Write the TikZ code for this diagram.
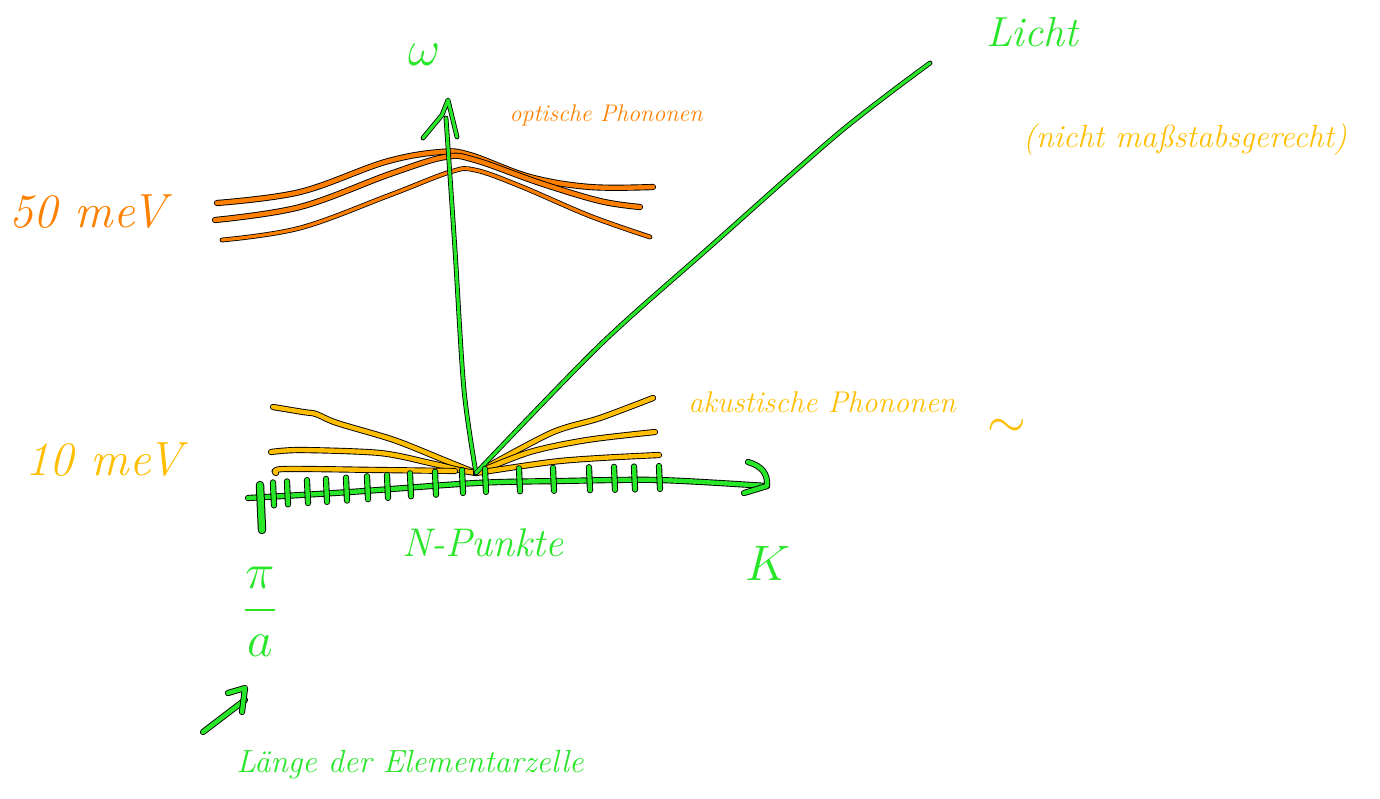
\documentclass[tikz,border=0pt]{standalone}
\usepackage{amsmath}
\definecolor{hgreen}{RGB}{40,230,40}
\definecolor{horange}{RGB}{255,128,0}
\definecolor{hyellow}{RGB}{255,190,0}
\tikzset{
  ink/.style={draw=black, double=#1, double distance=2.2pt, line width=0.45pt, line cap=round, line join=round},
  thinink/.style={draw=black, double=#1, double distance=1.6pt, line width=0.4pt, line cap=round, line join=round},
  lbl/.style={text=#1, inner sep=0pt, font=\itshape},
}
\begin{document}
\begin{tikzpicture}[x=0.5pt,y=-0.5pt]
\useasboundingbox (0,0) rectangle (1380,798);
% key points
\coordinate (O) at (476,473);
\coordinate (Kstart) at (248,498);
\coordinate (Kend) at (767,486);
\coordinate (Wtop) at (446,118);
\coordinate (Ltop) at (930,63);

% optical phonons
\draw[ink=horange] plot[smooth, tension=0.6] coordinates {(217,203) (300,192) (385,162) (440,152) (470,155) (530,177) (590,187) (653,187)};
\draw[ink=horange] plot[smooth, tension=0.6] coordinates {(215,220) (300,207) (390,174) (445,157) (475,160) (540,183) (600,201) (640,207)};
\draw[thinink=horange] plot[smooth, tension=0.6] coordinates {(222,240) (300,228) (390,195) (450,172) (475,170) (520,186) (590,216) (650,237)};

% acoustic phonons
\draw[ink=hyellow] plot[smooth] coordinates {(273,407) (303,412) (316,414) (337,423) (394,440) (444,460) (O)};
\draw[ink=hyellow] plot[smooth] coordinates {(271,452) (301,450) (380,453) (430,463) (459,470) (O)};
\draw[ink=hyellow] plot[smooth] coordinates {(276,473) (284,469) (380,470) (455,471)};
\draw[ink=hyellow] plot[smooth] coordinates {(O) (551,433) (600,418) (653,398)};
\draw[ink=hyellow] plot[smooth] coordinates {(O) (530,452) (587,440) (655,432)};
\draw[ink=hyellow] plot[smooth] coordinates {(O) (551,462) (600,458) (659,455)};

% omega axis
\draw[thinink=hgreen] plot[smooth] coordinates {(O) (464,390) (455,250) (Wtop)};
\draw[thinink=hgreen] (423,138) -- (442,115) -- (448,100) -- (457,137);

% light line
\draw[thinink=hgreen] plot[smooth] coordinates {(O) (600,345) (712,245) (840,132) (Ltop)};

% K axis
\draw[ink=hgreen] plot[smooth] coordinates {(Kstart) (350,492) (476,483) (560,481) (659,480) (Kend)};
\draw[ink=hgreen] (748,462) .. controls (762,466) and (768,474) .. (767,486) -- (744,493);
\draw[draw=black, double=hgreen, double distance=3.2pt, line width=0.5pt, line cap=round] (260,485) -- (262,530);
\foreach \x/\y in {273/496.4,287/495.4,307/494.1,326/492.9,346/491.6,367/490.2,387/488.9,410/487.3,435/485.7,462/484.0,485/482.9,519/482.3,553/481.8,589/481.2,614/480.8,634/480.5,659/480}{
  \draw[ink=hgreen] (\x,\y-14) -- (\x+1,\y+9);
}

% arrow to a
\coordinate (Astart) at (203,732);
\coordinate (Aend) at (245,700);
\draw[ink=hgreen] (Astart) -- (Aend);
\draw[ink=hgreen] (228,693) -- (245,688) -- (242,712);

% labels
\node[lbl=hgreen, font=\fontsize{32}{32}\selectfont] (w) at (425,55) {$\omega$};
\node[lbl=horange, font=\fontsize{12}{12}\selectfont\itshape] (opt) at (606,115) {optische Phononen};
\node[lbl=hgreen, font=\fontsize{21}{21}\selectfont\itshape] (licht) at (1032,32) {Licht};
\node[lbl=hyellow, font=\fontsize{16}{16}\selectfont\itshape] (nm) at (1185,140) {(nicht maßstabsgerecht)};
\node[lbl=horange, font=\fontsize{24}{24}\selectfont\itshape] (e50) at (88,212) {50 meV};
\node[lbl=hyellow, font=\fontsize{24}{24}\selectfont\itshape] (e10) at (104,460) {10 meV};
\node[lbl=hyellow, font=\fontsize{15}{15}\selectfont\itshape] (ak) at (822,402) {akustische Phononen};
\node[lbl=hyellow, font=\fontsize{28}{28}\selectfont] (tilde) at (1007,428) {$\sim$};
\node[lbl=hgreen, font=\fontsize{20}{20}\selectfont\itshape] (np) at (483,543) {N-Punkte};
\node[lbl=hgreen, font=\fontsize{32}{32}\selectfont] (K) at (768,563) {$K$};
\node[lbl=hgreen, font=\fontsize{26}{26}\selectfont] (pia) at (260,612) {$\dfrac{\pi}{a}$};
\node[lbl=hgreen, font=\fontsize{16}{16}\selectfont\itshape] (lz) at (410,765) {Länge der Elementarzelle};
\end{tikzpicture}
\end{document}
